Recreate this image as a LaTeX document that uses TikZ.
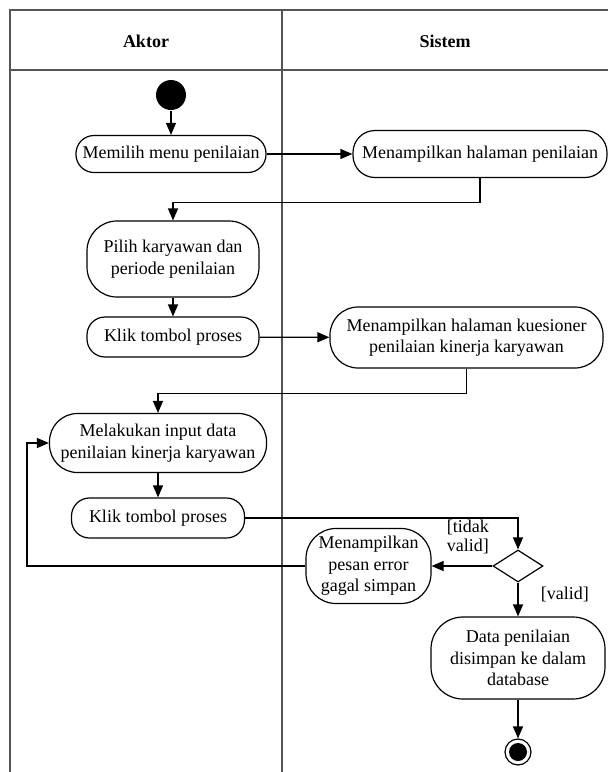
\documentclass[tikz,border=0pt]{standalone}
\usepackage{fontspec}
\setmainfont{Liberation Serif}
\usetikzlibrary{arrows.meta,positioning,calc,shapes.geometric}
\definecolor{ink}{HTML}{000000}
\definecolor{frame}{HTML}{555555}

\begin{document}
\begin{tikzpicture}[x=1pt,y=-1pt,line width=1.2pt,>={Triangle[length=12pt,width=10pt]},every node/.style={font=\fontsize{18}{21.5}\selectfont,text=ink},act/.style={draw=ink,align=center,inner sep=0pt,rounded corners=#1},act/.default=18pt,head/.style={font=\fontsize{18}{21.5}\selectfont\bfseries},guard/.style={align=left,anchor=west,font=\fontsize{18}{19}\selectfont},flow/.style={->,ink}]
\path[use as bounding box] (0,0) rectangle (608,772);

% swimlanes
\draw[frame,line width=1.5pt] (10,772)--(10,10)--(608,10);
\draw[frame,line width=1.5pt] (10,70)--(608,70);
\draw[frame,line width=1.5pt] (282,10)--(282,772);
\node[head] (aktor) at (146,41) {Aktor};
\node[head] (sistem) at (445,41) {Sistem};

% nodes
\node[circle,fill=ink,minimum size=30pt,inner sep=0pt] (start) at (171,95) {};
\node[act,minimum width=190pt,minimum height=37pt] (memilih) at (171,154) {Memilih menu penilaian};
\node[act=22pt,minimum width=254pt,minimum height=47pt] (tampil) at (480,154) {Menampilkan halaman penilaian};
\node[act=30pt,minimum width=172pt,minimum height=76pt] (pilih) at (173,259) {Pilih karyawan dan\\periode penilaian};
\node[act,minimum width=172pt,minimum height=40pt] (klik) at (173,337) {Klik tombol proses};
\node[act=28pt,minimum width=273pt,minimum height=61pt] (kuesioner) at (466.5,337.5) {Menampilkan halaman kuesioner\\penilaian kinerja karyawan};
\node[act=28pt,minimum width=217pt,minimum height=59pt] (input) at (158,443) {Melakukan input data\\penilaian kinerja karyawan};
\node[act,minimum width=173pt,minimum height=40pt] (kliklagi) at (158,518) {Klik tombol proses};
\node[diamond,draw=ink,minimum width=50pt,minimum height=32pt,inner sep=0pt] (cek) at (518,566) {};
\node[act=30pt,minimum width=125pt,minimum height=75pt] (gagal) at (368.5,566) {Menampilkan\\pesan error\\gagal simpan};
\node[act=32pt,minimum width=174pt,minimum height=82pt] (simpan) at (518,658) {Data penilaian\\disimpan ke dalam\\database};
\node[circle,draw=ink,minimum size=26pt,inner sep=0pt] (stop) at (518,752) {};
\fill[ink] (stop) circle (9);
\coordinate (balik) at (27,566);

% guards
\node[guard] (tidakvalid) at (443,537) {[tidak\\valid]};
\node[guard] (valid) at (537,594) {[valid]};

% flows
\draw[flow] (start)--(memilih);
\draw[flow] (memilih)--(tampil);
\draw[flow] (tampil.south)--++(0,24)-|(pilih.north);
\draw[flow] (pilih)--(klik);
\draw[flow] (klik)--(kuesioner);
\draw[flow] (kuesioner.south)--++(0,25)-|(input.north);
\draw[flow] (input)--(kliklagi);
\draw[flow] (kliklagi.east)-|(cek.north);
\draw[flow] (cek.west)--(gagal.east);
\draw[flow] (gagal.west)--(balik)|-(input.west);
\draw[flow] (cek.south)--(simpan.north);
\draw[flow] (simpan.south)--(stop.north);

\end{tikzpicture}
\end{document}
